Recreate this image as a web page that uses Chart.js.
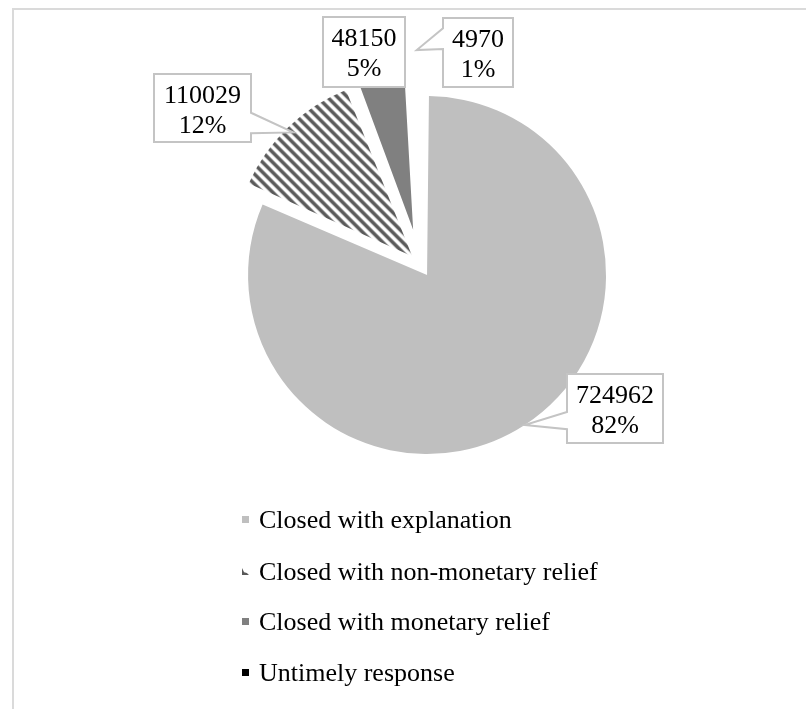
<!DOCTYPE html>
<html>
<head>
<meta charset="utf-8">
<script src="https://cdn.jsdelivr.net/npm/chart.js@4.4.1/dist/chart.umd.min.js"></script>
<style>
html, body { margin: 0; padding: 0; background: #fff; overflow: hidden; }
#wrap { position: relative; width: 806px; height: 709px; }
#frame { position: absolute; left: 12px; top: 8px; width: 900px; height: 900px; border: 2px solid #dadada; box-sizing: border-box; }
#pie { position: absolute; left: 0; top: 0; }
.legend { position: absolute; left: 0; top: 0; font-family: "Liberation Serif", "Times New Roman", serif; font-size: 26px; color: #000; }
.legend .row { position: absolute; left: 242px; height: 30px; line-height: 30px; white-space: nowrap; }
.legend .mark { position: absolute; left: 0; top: 11px; width: 7px; height: 7px; }
.legend .txt { position: absolute; left: 17px; top: 0; }
</style>
</head>
<body>
<div id="wrap">
  <div id="frame"></div>
  <canvas id="pie" width="806" height="709"></canvas>
  <div class="legend" id="legend"></div>
</div>
<script>
"use strict";

// ---- données ----
const CATEGORIES = [
    "Closed with explanation",
    "Closed with non-monetary relief",
    "Closed with monetary relief",
    "Untimely response"
];
const COUNTS = [724962, 110029, 48150, 4970];

// ---- mise en page ----
const RADIUS   = 179;
const EXPLODE  = [12, 12, 36, 36];          // px, décalage de chaque part
const TIP_DEPTH = [1.0, 0.96, 1.0, 1.0];    // où la flèche touche la part
const LABEL_BOXES = [
    { x: 567, y: 374, w: 96, h: 69, side: "left",  base: [0.55, 0.8] },
    { x: 154, y: 74,  w: 97, h: 68, side: "right", base: [0.57, 0.87] },
    { x: 323, y: 17,  w: 82, h: 70, side: null },
    { x: 443, y: 18,  w: 70, h: 69, side: "left",  base: [0.15, 0.45] }
];
const LEGEND_ROWS_Y = [520, 572, 622, 673];

function hatchPattern() {
    const c = document.createElement("canvas");
    c.width = c.height = 10;
    const g = c.getContext("2d");
    g.fillStyle = "#fff";
    g.fillRect(0, 0, 10, 10);
    g.strokeStyle = "#595959";
    g.lineWidth = 3.5;
    g.beginPath();
    g.moveTo(-5, -5); g.lineTo(15, 15);
    g.moveTo(-5, 5);  g.lineTo(5, 15);
    g.moveTo(5, -5);  g.lineTo(15, 5);
    g.stroke();
    return g.createPattern(c, "repeat");
}

const COLORS = ["#bfbfbf", hatchPattern(), "#808080", "#000000"];

// Chart.js grossit le rayon des parts décalées, on compense
const explodePlugin = {
    id: "explode",
    afterDatasetsUpdate(chart) {
        chart.getDatasetMeta(0).data.forEach((arc, i) => {
            const fix = 1 - Math.sin(Math.min(Math.PI, arc.circumference));
            arc.outerRadius = RADIUS - EXPLODE[i] * fix;
        });
    }
};

const calloutPlugin = {
    id: "callouts",
    afterDatasetsDraw(chart) {
        const ctx = chart.ctx;
        const meta = chart.getDatasetMeta(0);
        const total = COUNTS.reduce((s, v) => s + v, 0);

        meta.data.forEach((arc, i) => {
            const b = LABEL_BOXES[i];
            const mid = (arc.startAngle + arc.endAngle) / 2;
            const reach = EXPLODE[i] + RADIUS * TIP_DEPTH[i];
            const tx = arc.x + Math.cos(mid) * reach;
            const ty = arc.y + Math.sin(mid) * reach;

            ctx.save();
            ctx.beginPath();
            ctx.moveTo(b.x, b.y);
            ctx.lineTo(b.x + b.w, b.y);
            if (b.side === "right") {
                ctx.lineTo(b.x + b.w, b.y + b.h * b.base[0]);
                ctx.lineTo(tx, ty);
                ctx.lineTo(b.x + b.w, b.y + b.h * b.base[1]);
            }
            ctx.lineTo(b.x + b.w, b.y + b.h);
            ctx.lineTo(b.x, b.y + b.h);
            if (b.side === "left") {
                ctx.lineTo(b.x, b.y + b.h * b.base[1]);
                ctx.lineTo(tx, ty);
                ctx.lineTo(b.x, b.y + b.h * b.base[0]);
            }
            ctx.closePath();
            ctx.fillStyle = "#fff";
            ctx.fill();
            ctx.strokeStyle = "#c4c4c4";
            ctx.lineWidth = 2;
            ctx.lineJoin = "miter";
            ctx.stroke();

            ctx.fillStyle = "#000";
            ctx.font = "26px 'Liberation Serif'";
            ctx.textAlign = "center";
            ctx.textBaseline = "middle";
            const cx = b.x + b.w / 2;
            ctx.fillText(String(COUNTS[i]), cx, b.y + 22);
            ctx.fillText(Math.round(COUNTS[i] / total * 100) + "%", cx, b.y + 52);
            ctx.restore();
        });
    }
};

new Chart(document.getElementById("pie"), {
    type: "pie",
    data: {
        labels: CATEGORIES,
        datasets: [{
            data: COUNTS,
            backgroundColor: COLORS,
            borderWidth: 0,
            offset: EXPLODE.map(d => d * 4)
        }]
    },
    options: {
        responsive: false,
        animation: false,
        radius: RADIUS,
        layout: { padding: { left: 35, right: 0, top: 0, bottom: 179 } },
        plugins: { legend: { display: false }, tooltip: { enabled: false } }
    },
    plugins: [explodePlugin, calloutPlugin]
});

// ---- légende HTML ----
const MARKS = [
    "background:#bfbfbf",
    "background:#595959;clip-path:polygon(0 0,0 100%,100% 100%,70% 70%,30% 60%)",
    "background:#808080",
    "background:#000"
];
document.getElementById("legend").innerHTML = CATEGORIES.map((c, i) => `
    <div class="row" style="top:${LEGEND_ROWS_Y[i] - 15}px">
        <span class="mark" style="${MARKS[i]}"></span>
        <span class="txt">${c}</span>
    </div>`).join("");
</script>
</body>
</html>
